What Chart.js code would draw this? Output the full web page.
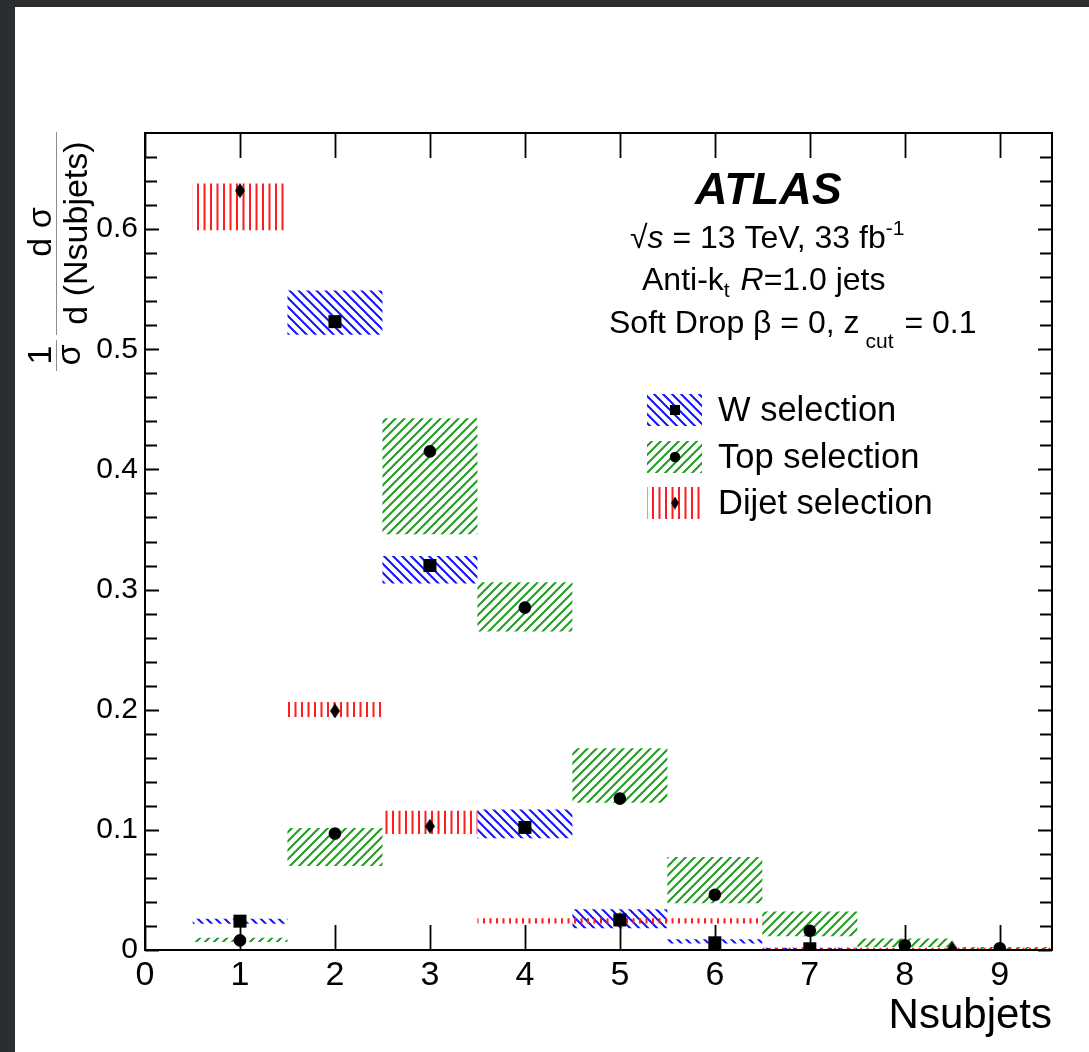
<!DOCTYPE html>
<html>
<head>
<meta charset="utf-8">
<script src="https://cdn.jsdelivr.net/npm/chart.js@4.4.1/dist/chart.umd.min.js"></script>
<style>
  html, body { margin: 0; padding: 0; width: 1089px; height: 1052px; overflow: hidden; background: #2b2e31; }
  #wrap { position: absolute; left: 15px; top: 7px; width: 1074px; height: 1045px; background: #ffffff; }
</style>
</head>
<body>
<div id="wrap"><canvas id="c"></canvas></div>
<script>
const FONT = '"Liberation Sans", Arial, Helvetica, sans-serif';

// ---- axis ticks ----
const xTickValues = [0, 1, 2, 3, 4, 5, 6, 7, 8, 9];
const xTickLabels = ['0', '1', '2', '3', '4', '5', '6', '7', '8', '9'];
const yTickValues = [0, 0.1, 0.2, 0.3, 0.4, 0.5, 0.6];
const yTickLabels = ['0', '0.1', '0.2', '0.3', '0.4', '0.5', '0.6'];
const yMinorValues = [0.02, 0.04, 0.06, 0.08, 0.12, 0.14, 0.16, 0.18, 0.22, 0.24, 0.26, 0.28,
                      0.32, 0.34, 0.36, 0.38, 0.42, 0.44, 0.46, 0.48, 0.52, 0.54, 0.56, 0.58,
                      0.62, 0.64, 0.66];

// ---- W selection (bins 1..7) ----
const wBins  = [1, 2, 3, 4, 5, 6, 7];
const wValues = [0.024, 0.523, 0.320, 0.102, 0.025, 0.006, 0.001];
const wLow    = [0.0218, 0.512, 0.305, 0.093, 0.018, 0.0055, 0.0004];
const wHigh   = [0.026, 0.549, 0.328, 0.117, 0.034, 0.009, 0.0018];

// ---- Top selection (bins 1..9) ----
const topBins   = [1, 2, 3, 4, 5, 6, 7, 8, 9];
const topValues = [0.008, 0.097, 0.415, 0.285, 0.126, 0.046, 0.016, 0.004, 0.0015];
const topLow    = [0.0066, 0.070, 0.346, 0.265, 0.1225, 0.039, 0.0115, 0.0025, 0.0003];
const topHigh   = [0.0102, 0.1015, 0.4425, 0.306, 0.168, 0.0775, 0.032, 0.0095, 0.0025];

// ---- Dijet selection (variable bins) ----
const dijetEdges   = [0.5, 1.5, 2.5, 3.5, 6.5, 10.5];
const dijetCenters = [1, 2, 3, 5, 8.5];
const dijetValues  = [0.632, 0.199, 0.103, 0.025, 0.0012];
const dijetLow     = [0.599, 0.194, 0.0965, 0.022, 0.0006];
const dijetHigh    = [0.638, 0.2065, 0.1158, 0.0265, 0.0018];

// ---- hatch patterns ----
function diagonalHatch(dir, color, size, lw) {
  const c = document.createElement('canvas');
  c.width = size; c.height = size;
  const g = c.getContext('2d');
  g.strokeStyle = color; g.lineWidth = lw;
  g.beginPath();
  if (dir === 'back') {
    g.moveTo(-1, -1); g.lineTo(size + 1, size + 1);
    g.moveTo(-2, size - 2); g.lineTo(2, size + 2);
    g.moveTo(size - 2, -2); g.lineTo(size + 2, 2);
  } else {
    g.moveTo(-1, size + 1); g.lineTo(size + 1, -1);
    g.moveTo(-2, 2); g.lineTo(2, -2);
    g.moveTo(size - 2, size + 2); g.lineTo(size + 2, size - 2);
  }
  g.stroke();
  return g.createPattern(c, 'repeat');
}
function verticalHatch(color) {
  const c = document.createElement('canvas');
  c.width = 13; c.height = 4;
  const g = c.getContext('2d');
  g.fillStyle = color;
  g.fillRect(0, 0, 2, 4);
  g.fillRect(6.5, 0, 2, 4);
  return g.createPattern(c, 'repeat');
}
const BLUE = '#1212ff', GREEN = '#1f9d1f', RED = '#ff1c1c';
const wPattern = diagonalHatch('back', BLUE, 9, 2);
const topPattern = diagonalHatch('fwd', GREEN, 9, 2);
const dijetPattern = verticalHatch(RED);

// tall diamond marker
function diamondMarker(w, h) {
  const c = document.createElement('canvas');
  c.width = w; c.height = h;
  const g = c.getContext('2d');
  g.fillStyle = '#000';
  g.beginPath();
  g.moveTo(w / 2, 0); g.lineTo(w, h / 2); g.lineTo(w / 2, h); g.lineTo(0, h / 2);
  g.closePath(); g.fill();
  return c;
}
const diamond = diamondMarker(10, 15);
const diamondSmall = diamondMarker(8, 13);

// stepped outline of a band from per-bin edges
function stepPoints(edges, vals) {
  const pts = vals.map((v, i) => ({ x: edges[i], y: v }));
  pts.push({ x: edges[edges.length - 1], y: vals[vals.length - 1] });
  return pts;
}
function edgesFromCenters(centers) {
  const e = centers.map(c => c - 0.5);
  e.push(centers[centers.length - 1] + 0.5);
  return e;
}
function bandPair(edges, low, high, pattern, order) {
  const common = { type: 'line', stepped: true, borderColor: 'transparent', borderWidth: 0,
                   pointRadius: 0, order: order, tension: 0 };
  return [
    Object.assign({}, common, { data: stepPoints(edges, low), fill: false }),
    Object.assign({}, common, { data: stepPoints(edges, high), fill: '-1', backgroundColor: pattern })
  ];
}
function markers(xs, ys, style, radius) {
  return { type: 'scatter', data: xs.map((x, i) => ({ x: x, y: ys[i] })), pointStyle: style,
           pointRadius: radius, pointBackgroundColor: '#000', pointBorderColor: '#000',
           pointBorderWidth: 0, showLine: false, order: 0 };
}

const datasets = [
  ...bandPair(edgesFromCenters(wBins), wLow, wHigh, wPattern, 3),
  ...bandPair(edgesFromCenters(topBins), topLow, topHigh, topPattern, 2),
  ...bandPair(dijetEdges, dijetLow, dijetHigh, dijetPattern, 1),
  markers(wBins, wValues, 'rect', 9.2),
  markers(topBins, topValues, 'circle', 6.3),
  markers(dijetCenters, dijetValues, diamond, 7)
];

// frame with inward ticks on all four sides
const framePlugin = {
  id: 'frame',
  afterDatasetsDraw(chart) {
    const { ctx, chartArea: a, scales: { x, y } } = chart;
    ctx.save();
    ctx.strokeStyle = '#000';
    ctx.lineWidth = 2;
    ctx.strokeRect(a.left, a.top, a.right - a.left, a.bottom - a.top);
    ctx.lineWidth = 1.8;
    ctx.beginPath();
    xTickValues.forEach(v => {
      const px = Math.round(x.getPixelForValue(v)) + 0.5;
      ctx.moveTo(px, a.bottom); ctx.lineTo(px, a.bottom - 25);
      ctx.moveTo(px, a.top); ctx.lineTo(px, a.top + 25);
    });
    yTickValues.forEach(v => {
      const py = Math.round(y.getPixelForValue(v)) + 0.5;
      ctx.moveTo(a.left, py); ctx.lineTo(a.left + 14, py);
      ctx.moveTo(a.right, py); ctx.lineTo(a.right - 14, py);
    });
    yMinorValues.forEach(v => {
      const py = Math.round(y.getPixelForValue(v)) + 0.5;
      ctx.moveTo(a.left, py); ctx.lineTo(a.left + 12, py);
      ctx.moveTo(a.right, py); ctx.lineTo(a.right - 12, py);
    });
    ctx.stroke();
    ctx.restore();
  }
};

// text runs with sub/superscripts
function drawRun(ctx, parts, x, y) {
  let cx = x;
  parts.forEach(p => {
    ctx.font = `${p.style || ''} ${p.size}px ${FONT}`;
    ctx.fillText(p.t, cx, y + (p.dy || 0));
    cx += ctx.measureText(p.t).width + (p.gap || 0);
  });
}

const textPlugin = {
  id: 'labels',
  afterDraw(chart) {
    const ctx = chart.ctx;
    ctx.save();
    ctx.fillStyle = '#000';
    ctx.textAlign = 'left';
    ctx.textBaseline = 'alphabetic';
    // canvas sits 15px right and 7px down in the page
    drawRun(ctx, [{ t: 'ATLAS', size: 45, style: 'italic bold' }], 680, 197);
    drawRun(ctx, [
      { t: '\u221A', size: 32 }, { t: 's', size: 32, style: 'italic' },
      { t: ' = 13 TeV, 33 fb', size: 32 }, { t: '-1', size: 21, dy: -13 }
    ], 615, 241);
    drawRun(ctx, [
      { t: 'Anti-k', size: 32 }, { t: 't', size: 21, dy: 7, gap: 2 }, { t: ' ', size: 32 },
      { t: 'R', size: 32, style: 'italic' }, { t: '=1.0 jets', size: 32 }
    ], 627, 283);
    drawRun(ctx, [
      { t: 'Soft Drop \u03B2 = 0, z', size: 32, gap: 6 }, { t: 'cut', size: 21, dy: 15, gap: 2 },
      { t: ' = 0.1', size: 32 }
    ], 594, 326);

    // legend
    const legend = [
      { label: 'W selection', pattern: wPattern, mark: 'square', cy: 403 },
      { label: 'Top selection', pattern: topPattern, mark: 'circle', cy: 450 },
      { label: 'Dijet selection', pattern: dijetPattern, mark: 'diamond', cy: 496 }
    ];
    legend.forEach(e => {
      ctx.fillStyle = e.pattern;
      ctx.fillRect(632, e.cy - 16, 55, 32);
      ctx.fillStyle = '#000';
      const mx = 660;
      if (e.mark === 'square') ctx.fillRect(mx - 5, e.cy - 5, 10, 10);
      else if (e.mark === 'circle') { ctx.beginPath(); ctx.arc(mx, e.cy, 5.2, 0, Math.PI * 2); ctx.fill(); }
      else ctx.drawImage(diamondSmall, mx - 4, e.cy - 6.5);
      ctx.font = `34.5px ${FONT}`;
      ctx.textBaseline = 'middle';
      ctx.fillText(e.label, 703, e.cy + 1);
      ctx.textBaseline = 'alphabetic';
    });

    // y-axis title: (1/sigma) d sigma / d(Nsubjets)
    ctx.translate(41, 226);
    ctx.rotate(-Math.PI / 2);
    ctx.textAlign = 'center';
    ctx.font = `34px ${FONT}`;
    ctx.fillText('d \u03C3', 1, -5);
    ctx.fillText('d (Nsubjets)', 0, 31);
    ctx.fillText('1', -122, -5);
    ctx.fillText('\u03C3', -122, 24);
    ctx.strokeStyle = '#8c8c8c';
    ctx.lineWidth = 1;
    ctx.beginPath();
    ctx.moveTo(-102, 0.5); ctx.lineTo(101, 0.5);
    ctx.moveTo(-138, 0.5); ctx.lineTo(-107, 0.5);
    ctx.stroke();
    ctx.restore();
  }
};

new Chart(document.getElementById('c'), {
  type: 'line',
  data: { datasets: datasets },
  options: {
    responsive: true,
    maintainAspectRatio: false,
    animation: false,
    layout: { padding: { top: 126, right: 37, left: 0, bottom: 0 } },
    plugins: { legend: { display: false }, tooltip: { enabled: false } },
    scales: {
      x: {
        type: 'linear', min: 0, max: 9.55,
        afterFit(s) { s.height = 102; },
        afterBuildTicks(s) { s.ticks = xTickValues.map(v => ({ value: v })); },
        grid: { display: false, drawTicks: false },
        border: { display: false },
        ticks: {
          autoSkip: false, maxRotation: 0, padding: 5, color: '#000',
          font: { family: FONT, size: 34 },
          callback: (v, i) => xTickLabels[i]
        },
        title: {
          display: true, text: 'Nsubjets', align: 'end', color: '#000',
          font: { family: FONT, size: 42 }, padding: { top: 0, bottom: 10 }
        }
      },
      y: {
        type: 'linear', min: 0, max: 0.68,
        afterFit(s) { s.width = 130; },
        afterBuildTicks(s) { s.ticks = yTickValues.map(v => ({ value: v })); },
        grid: { display: false, drawTicks: false },
        border: { display: false },
        ticks: {
          autoSkip: false, padding: 7, color: '#000',
          font: { family: FONT, size: 30 },
          callback: (v, i) => yTickLabels[i]
        }
      }
    }
  },
  plugins: [framePlugin, textPlugin]
});
</script>
</body>
</html>
